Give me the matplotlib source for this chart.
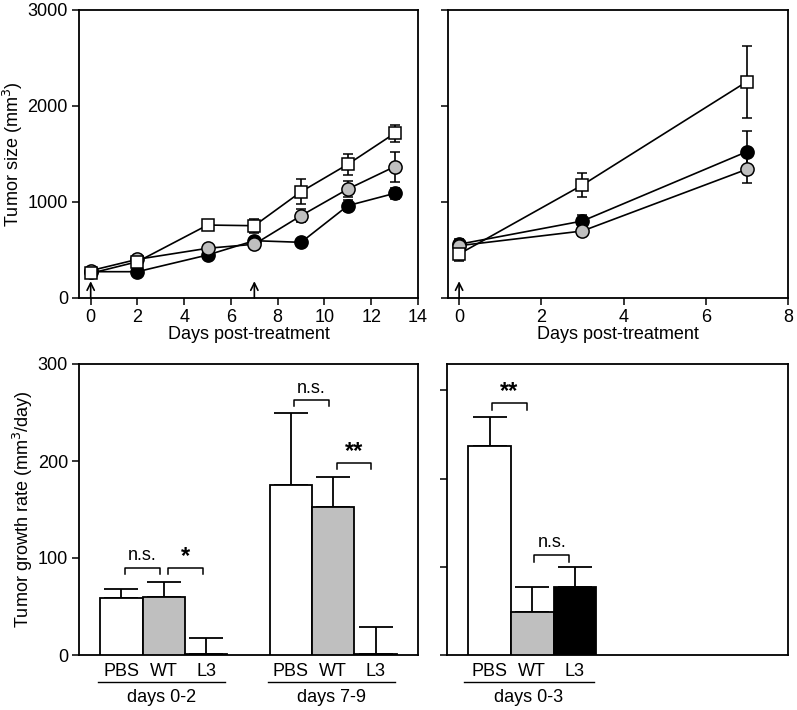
import matplotlib
matplotlib.use("Agg")
import matplotlib.pyplot as plt

plt.rcParams["font.family"] = ["Liberation Sans", "DejaVu Sans"]
plt.rcParams["font.size"] = 13

# top-left: tumor size, first experiment
days_a = [0, 2, 5, 7, 9, 11, 13]
pbs_a = [257, 378, 760, 753, 1107, 1393, 1715]
pbs_a_err = [30, 30, 30, 75, 130, 107, 85]
wt_a = [285, 403, 518, 560, 858, 1135, 1368]
wt_a_err = [25, 25, 30, 30, 70, 85, 155]
l3_a = [274, 274, 448, 597, 580, 962, 1090]
l3_a_err = [20, 20, 25, 30, 30, 55, 60]
arrows_a = [0, 7]

# top-right: tumor size, second experiment
days_b = [0, 3, 7]
pbs_b = [458, 1177, 2254]
pbs_b_err = [70, 120, 375]
wt_b = [545, 698, 1341]
wt_b_err = [40, 55, 146]
l3_b = [560, 802, 1524]
l3_b_err = [50, 60, 215]
arrows_b = [0]

# bottom: growth rates
groups = ["PBS", "WT", "L3"]
rate_02 = [58.8, 59.5, 1.0]
rate_02_err = [9.5, 15.5, 16.5]
rate_79 = [175.5, 153, 1.5]
rate_79_err = [73.5, 31, 27.5]
rate_03 = [237, 49, 77.5]
rate_03_err = [33, 28, 22.5]

W, H = 797, 710
fig = plt.figure(figsize=(W / 100, H / 100), dpi=100)


def px_axes(l, r, t, b):
    return fig.add_axes([l / W, (H - b) / H, (r - l) / W, (b - t) / H])


def style(ax):
    for s in ax.spines.values():
        s.set_linewidth(1.3)
    ax.tick_params(direction="out", length=5, width=1.1, top=False, right=False, pad=3)


def lines(ax, x, series, arrows):
    for y, e, mk, fc in series:
        ax.errorbar(x, y, yerr=e, fmt="-" + mk, color="black", mfc=fc, mec="black",
                    ms=9.5 if mk == "o" else 8, lw=1.2, elinewidth=1.2,
                    capsize=3.5, capthick=1.2, mew=1.1)
    for a in arrows:
        ax.annotate("", xy=(a, 175), xytext=(a, 0),
                    arrowprops=dict(arrowstyle="->", lw=1.2, color="black",
                                    shrinkA=0, shrinkB=0))
    ax.set_ylim(0, 3000)
    ax.set_yticks([0, 1000, 2000, 3000])
    ax.set_xlabel("Days post-treatment", labelpad=0)
    style(ax)


ax1 = px_axes(79, 418, 10, 298)
lines(ax1, days_a, [(l3_a, l3_a_err, "o", "black"), (wt_a, wt_a_err, "o", "#bfbfbf"),
                    (pbs_a, pbs_a_err, "s", "white")], arrows_a)
ax1.set_xlim(-0.5, 14)
ax1.set_xticks(range(0, 15, 2))
ax1.set_ylabel("Tumor size (mm$^3$)", labelpad=2)

ax2 = px_axes(448, 788, 10, 298)
lines(ax2, days_b, [(l3_b, l3_b_err, "o", "black"), (wt_b, wt_b_err, "o", "#bfbfbf"),
                    (pbs_b, pbs_b_err, "s", "white")], arrows_b)
ax2.set_xlim(-0.27, 8)
ax2.set_xticks(range(0, 9, 2))
ax2.set_yticklabels([])

colors = ["white", "#bfbfbf", "black"]


def bars(ax, x, vals, errs, ymax):
    ax.bar(x, vals, width=1.0, color=colors, edgecolor="black", linewidth=1.3, zorder=3)
    ax.errorbar(x, vals, yerr=[[0] * len(errs), errs], fmt="none", ecolor="black",
                elinewidth=1.3, capsize=12, capthick=1.3, zorder=2)
    ax.set_xlim(0, 8)
    ax.set_ylim(0, ymax)
    ax.set_xticks([])
    style(ax)
    tr = ax.get_xaxis_transform()
    for xi, g in zip(x, groups):
        ax.text(xi, -0.058, g, transform=tr, ha="center", va="center")


def group_label(ax, x0, x1, label):
    tr = ax.get_xaxis_transform()
    ax.plot([x0, x1], [-0.093, -0.093], color="black", lw=1.0, transform=tr, clip_on=False)
    ax.text((x0 + x1) / 2, -0.145, label, transform=tr, ha="center", va="center")


def bracket(ax, x0, x1, y, leg, label):
    ax.plot([x0, x0, x1, x1], [y - leg, y, y, y - leg], color="black", lw=1.1)
    star = "*" in label
    ax.text((x0 + x1) / 2, y + leg * (0.0 if star else 0.5), label, ha="center",
            va="bottom", fontsize=17 if star else 13, fontweight="bold" if star else "normal")


ax3 = px_axes(79, 418, 364, 655)
bars(ax3, [1, 2, 3], rate_02, rate_02_err, 300)
bars(ax3, [5, 6, 7], rate_79, rate_79_err, 300)
ax3.set_yticks([0, 100, 200, 300])
ax3.set_ylabel("Tumor growth rate (mm$^3$/day)", labelpad=2)
group_label(ax3, 0.45, 3.45, "days 0-2")
group_label(ax3, 4.45, 7.45, "days 7-9")
bracket(ax3, 1.08, 1.9, 90, 7, "n.s.")
bracket(ax3, 2.09, 2.92, 90, 7, "*")
bracket(ax3, 5.08, 5.9, 263, 6, "n.s.")
bracket(ax3, 6.09, 6.9, 198, 6, "**")

ax4 = px_axes(447, 788, 364, 655)
bars(ax4, [1, 2, 3], rate_03, rate_03_err, 330)
ax4.set_yticks([0, 100, 200, 300])
ax4.set_yticklabels([])
group_label(ax4, 0.4, 3.45, "days 0-3")
bracket(ax4, 1.05, 1.87, 286, 8, "**")
bracket(ax4, 2.05, 2.87, 113.6, 8, "n.s.")

fig.savefig("out.png", dpi=100)
